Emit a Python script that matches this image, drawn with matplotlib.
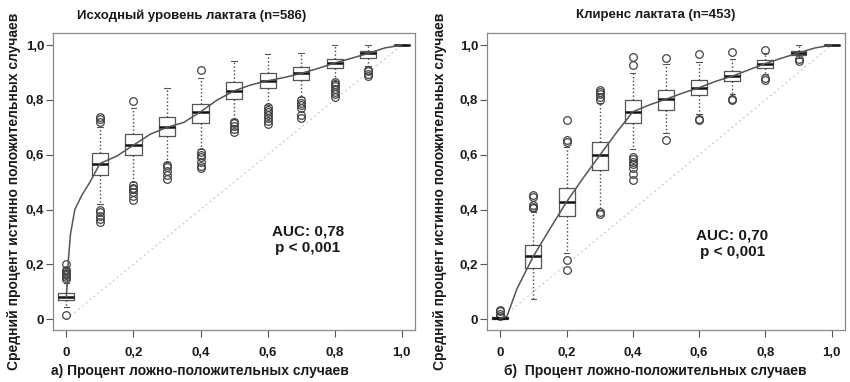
import matplotlib
matplotlib.use("Agg")
import matplotlib.pyplot as plt

plt.rcParams['font.family'] = ['Liberation Sans', 'DejaVu Sans']

# доля ложноположительных (ось X)
fpr = [0, 0.1, 0.2, 0.3, 0.4, 0.5, 0.6, 0.7, 0.8, 0.9, 1.0]
x_ticks = [0, 0.2, 0.4, 0.6, 0.8, 1.0]
tick_labels = ["0", "0,2", "0,4", "0,6", "0,8", "1,0"]

# а) Исходный уровень лактата
a_med = [0.082, 0.568, 0.635, 0.700, 0.757, 0.833, 0.870, 0.897, 0.935, 0.970, 1.0]
a_q1 = [0.068, 0.526, 0.598, 0.668, 0.717, 0.805, 0.845, 0.872, 0.915, 0.955, 1.0]
a_q3 = [0.096, 0.605, 0.675, 0.738, 0.787, 0.866, 0.897, 0.921, 0.951, 0.979, 1.0]
a_lo = [0.045, 0.42, 0.50, 0.575, 0.62, 0.73, 0.78, 0.81, 0.87, 0.925, 1.0]
a_hi = [0.13, 0.70, 0.77, 0.842, 0.88, 0.942, 0.967, 0.972, 1.0, 1.0, 1.0]
a_out = [
    [0.015, 0.145, 0.155, 0.16, 0.165, 0.17, 0.175, 0.18, 0.20],
    [0.355, 0.365, 0.375, 0.39, 0.40, 0.72, 0.73, 0.738],
    [0.435, 0.45, 0.465, 0.475, 0.48, 0.49, 0.795],
    [0.513, 0.525, 0.54, 0.555, 0.562],
    [0.55, 0.56, 0.575, 0.59, 0.60, 0.61, 0.909],
    [0.684, 0.695, 0.705, 0.715, 0.72],
    [0.714, 0.725, 0.735, 0.745, 0.755, 0.765, 0.775],
    [0.733, 0.745, 0.77, 0.78, 0.79, 0.80],
    [0.81, 0.82, 0.83, 0.84, 0.85, 0.86, 0.866],
    [0.887, 0.895, 0.905, 0.91],
    [],
]
a_curve_x = [0, 0.003, 0.006, 0.012, 0.025, 0.045, 0.07, 0.1, 0.15, 0.2, 0.25, 0.3, 0.35,
             0.4, 0.45, 0.5, 0.55, 0.6, 0.65, 0.7, 0.75, 0.8, 0.85, 0.9, 0.95, 1.0]
a_curve_y = [0.082, 0.15, 0.22, 0.31, 0.40, 0.45, 0.50, 0.568, 0.595, 0.635, 0.675, 0.700, 0.718,
             0.757, 0.800, 0.833, 0.855, 0.870, 0.882, 0.897, 0.915, 0.935, 0.952, 0.970, 0.99, 1.0]

# б) Клиренс лактата
b_med = [0.003, 0.23, 0.428, 0.598, 0.757, 0.803, 0.845, 0.887, 0.933, 0.972, 1.0]
b_q1 = [0.0, 0.187, 0.376, 0.546, 0.716, 0.765, 0.817, 0.869, 0.917, 0.963, 1.0]
b_q3 = [0.006, 0.27, 0.477, 0.647, 0.80, 0.838, 0.872, 0.905, 0.945, 0.98, 1.0]
b_lo = [0.0, 0.072, 0.24, 0.40, 0.62, 0.68, 0.75, 0.82, 0.895, 0.955, 1.0]
b_hi = [0.008, 0.39, 0.63, 0.79, 0.90, 0.93, 0.94, 0.95, 0.97, 1.0, 1.0]
b_out = [
    [0.012, 0.02, 0.03, 0.035],
    [0.404, 0.41, 0.415, 0.445, 0.452],
    [0.18, 0.215, 0.648, 0.653, 0.726],
    [0.385, 0.39, 0.80, 0.81, 0.82, 0.83, 0.838],
    [0.507, 0.53, 0.55, 0.565, 0.575, 0.585, 0.59, 0.927, 0.957],
    [0.653, 0.955],
    [0.727, 0.732, 0.967],
    [0.80, 0.805, 0.976],
    [0.874, 0.88, 0.984],
    [0.943, 0.948],
    [],
]
b_curve_x = [0, 0.02, 0.05, 0.1, 0.15, 0.2, 0.25, 0.3, 0.35, 0.4, 0.45, 0.5, 0.55,
             0.6, 0.65, 0.7, 0.75, 0.8, 0.85, 0.9, 0.95, 1.0]
b_curve_y = [0.003, 0.01, 0.11, 0.23, 0.33, 0.428, 0.515, 0.598, 0.68, 0.757, 0.782, 0.803, 0.825,
             0.845, 0.868, 0.887, 0.91, 0.933, 0.953, 0.972, 0.99, 1.0]

titles = ["Исходный уровень лактата (n=586)", "Клиренс лактата (n=453)"]
xlabels = ["а) Процент ложно-положительных случаев", "б)  Процент ложно-положительных случаев"]
ylabel = "Средний процент истинно положительных случаев"
auc_texts = ["AUC: 0,78\np < 0,001", "AUC: 0,70\np < 0,001"]

txt = "#1a1a1a"
fig = plt.figure(figsize=(8.5, 3.82), dpi=100)
ax_a = fig.add_axes([0.0624, 0.136, 0.4259, 0.778])
ax_b = fig.add_axes([0.573, 0.136, 0.421, 0.778])

panels = [
    (ax_a, a_med, a_q1, a_q3, a_lo, a_hi, a_out, a_curve_x, a_curve_y, (0.72, 0.29)),
    (ax_b, b_med, b_q1, b_q3, b_lo, b_hi, b_out, b_curve_x, b_curve_y, (0.70, 0.275)),
]

for i, (ax, med, q1, q3, lo, hi, out, cx, cy, auc_pos) in enumerate(panels):
    stats = []
    for k in range(len(fpr)):
        stats.append(dict(med=med[k], q1=q1[k], q3=q3[k], whislo=lo[k], whishi=hi[k], fliers=out[k]))

    # диагональ
    ax.plot([0, 1], [0, 1], color="#c8c8c8", lw=0.9, ls=(0, (1.5, 2.5)), zorder=1)

    ax.bxp(stats, positions=fpr, widths=0.048, capwidths=0.016, manage_ticks=False,
           boxprops=dict(color="#555555", lw=0.9),
           whiskerprops=dict(color="#444444", lw=1.0, ls=":"),
           capprops=dict(color="#555555", lw=0.8),
           medianprops=dict(color="#111111", lw=1.8),
           flierprops=dict(marker="o", markerfacecolor="none", markeredgecolor="#444444",
                           markersize=5.5, markeredgewidth=0.9),
           zorder=2)

    ax.plot(cx, cy, color="#555555", lw=1.1, zorder=3)

    ax.set_xlim(-0.04, 1.04)
    ax.set_ylim(-0.04, 1.045)
    ax.set_xticks(x_ticks)
    ax.set_xticklabels(tick_labels, fontweight="bold", fontsize=9.5, color=txt)
    ax.set_yticks(x_ticks)
    ax.set_yticklabels(tick_labels, fontweight="bold", fontsize=9.5, color=txt)
    ax.tick_params(axis="x", length=5, width=0.8, color="#555555", pad=7)
    ax.tick_params(axis="y", length=5, width=0.8, color="#555555", pad=1.5)
    for s in ax.spines.values():
        s.set_color("#888888")
        s.set_linewidth(0.9)

    ax.text(auc_pos[0], auc_pos[1], auc_texts[i], ha="center", va="center",
            fontsize=11, fontweight="bold", color=txt, linespacing=1.3)

fig.text(0.226, 0.96, titles[0], ha="center", va="center", fontsize=9.5, fontweight="bold", color=txt)
fig.text(0.771, 0.96, titles[1], ha="center", va="center", fontsize=9.5, fontweight="bold", color=txt)
fig.text(0.235, 0.03, xlabels[0], ha="center", va="center", fontsize=10, fontweight="bold", color=txt)
fig.text(0.771, 0.03, xlabels[1], ha="center", va="center", fontsize=10, fontweight="bold", color=txt)
fig.text(0.016, 0.5, ylabel, ha="center", va="center", rotation=90, fontsize=10, fontweight="bold", color=txt)
fig.text(0.518, 0.5, ylabel, ha="center", va="center", rotation=90, fontsize=10, fontweight="bold", color=txt)

fig.savefig("out.png", dpi=100)
